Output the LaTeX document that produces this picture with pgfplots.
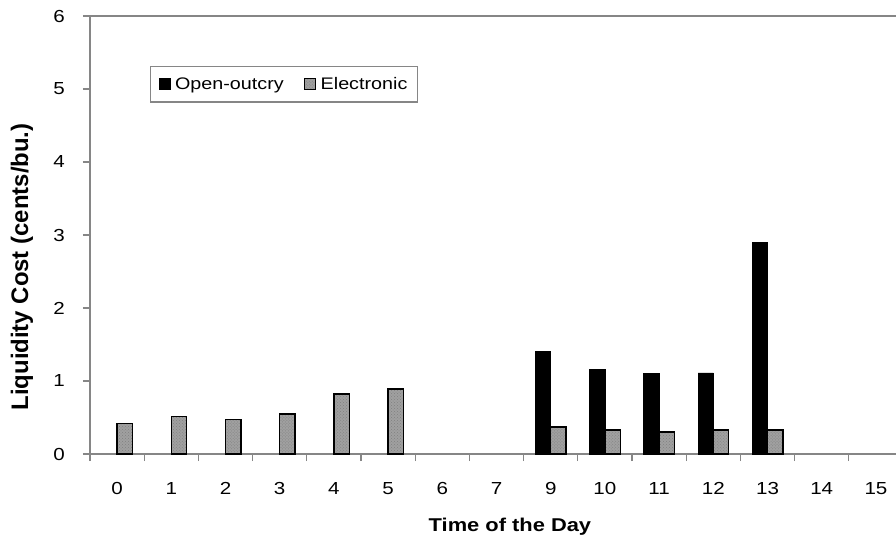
\documentclass[border=0pt]{standalone}
\usepackage{fontspec}
\setmainfont{Liberation Sans}[FakeStretch=1.18]
\newfontfamily\ylabfont{Liberation Sans}
\usepackage{pgfplots}
\pgfplotsset{compat=1.18}
\usetikzlibrary{patterns}
\definecolor{axgray}{RGB}{134,134,134}
\definecolor{elgray}{RGB}{160,160,160}
\begin{document}
\begin{tikzpicture}
\begin{axis}[
  scale only axis,
  width=806bp, height=438bp,
  xmin=-0.5, xmax=14.37,
  ymin=0, ymax=6,
  axis x line*=box, axis y line*=left,
  axis line style={axgray, line width=1.2pt},
  tick pos=left, tick align=outside,
  ytick={0,1,2,3,4,5,6},
  yticklabels={0,1,2,3,4,5,6},
  xtick={-0.5,0.5,...,13.5},
  xticklabels={},
  extra x ticks={0,...,14},
  extra x tick labels={0,1,2,3,4,5,6,7,9,10,11,12,13,14,15},
  extra x tick style={major tick length=0pt},
  tick style={axgray, line width=1.2pt},
  major tick length=7bp,
  ticklabel style={font=\fontsize{17.5}{20}\selectfont, inner sep=0pt},
  xticklabel style={anchor=north, yshift=-28bp},
  yticklabel style={anchor=east, xshift=-18bp},
  every axis x label/.style={at={(axis description cs:0.521,-0.166)}, anchor=center, font=\fontsize{18.6}{22}\selectfont\bfseries},
  every axis y label/.style={at={(axis description cs:-0.0844,0.427)}, anchor=center, rotate=90, font=\ylabfont\fontsize{24}{28}\selectfont\bfseries},
  xlabel={Time of the Day},
  ylabel={Liquidity Cost (cents/bu.)},
  ybar=0pt, bar width=15.3bp,
  legend columns=2,
  legend style={at={(axis description cs:0.0744,0.8865)}, anchor=north west,
    draw=axgray, line width=1.2pt, font=\fontsize{16.8}{20}\selectfont,
    inner xsep=8bp, inner ysep=9bp,
    /tikz/every odd column/.append style={column sep=3bp},
    /tikz/every even column/.append style={column sep=18bp}},
]
\addplot[fill=black, draw=black, line width=0.8pt,
  legend image code/.code={\draw[fill=black,draw=black,line width=0.5pt] (0bp,-5.5bp) rectangle (11bp,5.5bp);}]
  coordinates {(8,1.40) (9,1.16) (10,1.10) (11,1.11) (12,2.90)};
\addplot[fill=elgray, draw=black, line width=1.4pt, postaction={pattern=crosshatch dots, pattern color=black!50},
  legend image code/.code={\draw[fill=elgray,draw=black,line width=1pt] (0bp,-5.5bp) rectangle (11bp,5.5bp);}]
  coordinates {(0,0.42) (1,0.51) (2,0.47) (3,0.55) (4,0.82) (5,0.89) (8,0.37) (9,0.33) (10,0.30) (11,0.33) (12,0.33)};
\legend{Open-outcry, Electronic}
\end{axis}
\pgfresetboundingbox
\path[use as bounding box] (-90bp,-86bp) rectangle (806bp,454bp);
\end{tikzpicture}
\end{document}
